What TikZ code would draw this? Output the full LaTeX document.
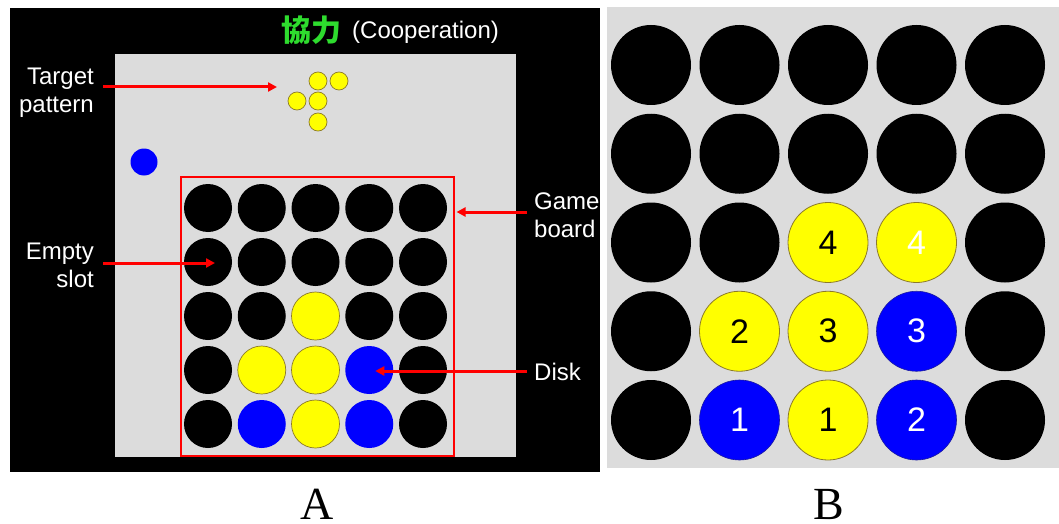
\documentclass[tikz,border=0pt]{standalone}
\usepackage{fontspec}
\setmainfont{Liberation Serif}
\newfontfamily\arialf{Liberation Sans}
\newfontfamily\cjkjp{Noto Sans CJK JP}
\usetikzlibrary{arrows.meta}
\definecolor{boardgray}{HTML}{DCDCDC}
\definecolor{diskyellow}{HTML}{FFFF00}
\definecolor{diskblue}{HTML}{0000FF}
\definecolor{yedge}{HTML}{8C7A2A}
\definecolor{bedge}{HTML}{1A1AA0}
\definecolor{titlegreen}{HTML}{2EDC2E}
\definecolor{callred}{HTML}{FF0000}
\tikzset{
  aK/.style={circle,inner sep=0pt,minimum size=48pt,fill=black},
  aY/.style={circle,inner sep=0pt,minimum size=48pt,fill=diskyellow,draw=yedge,line width=0.7pt},
  aB/.style={circle,inner sep=0pt,minimum size=48pt,fill=diskblue},
  bK/.style={circle,inner sep=0pt,minimum size=80pt,fill=black},
  bY/.style={circle,inner sep=0pt,minimum size=80pt,fill=diskyellow,draw=yedge,line width=0.8pt,text=black,font=\arialf\fontsize{34}{34}\selectfont},
  bW/.style={bY,text=white},
  bB/.style={circle,inner sep=0pt,minimum size=80pt,fill=diskblue,draw=bedge,line width=0.6pt,text=white,font=\arialf\fontsize{34}{34}\selectfont},
  tdot/.style={circle,inner sep=0pt,minimum size=18pt,fill=diskyellow,draw=yedge,line width=0.7pt},
  bdot/.style={circle,inner sep=0pt,minimum size=27pt,fill=diskblue},
  callout/.style={text=white,inner sep=0pt,font=\arialf\fontsize{24}{28}\selectfont},
  callarrow/.style={draw=callred,line width=3pt,-{Triangle[length=9pt,width=9pt]}},
  redbox/.style={draw=callred,line width=2.5pt,inner sep=0pt},
  panellabel/.style={inner sep=0pt,font=\fontsize{46}{46}\selectfont}
}
\begin{document}
\begin{tikzpicture}[x=1pt,y=-1pt]
\useasboundingbox (0,0) rectangle (1059,524);
\fill[white] (0,0) rectangle (1059,524);
% ---------- Panel A ----------
\fill[black] (10,8) rectangle (600,472);
\fill[boardgray] (115,54) rectangle (516,457);
\node[anchor=base west,inner sep=0pt,text=titlegreen,font=\cjkjp\bfseries\fontsize{30}{30}\selectfont] (titlejp) at (281,42) {協力};
\node[anchor=base west,inner sep=0pt,text=white,font=\arialf\fontsize{24}{24}\selectfont] (titleen) at (352,39) {(Cooperation)};
% target pattern
\node[tdot] (t1) at (318,81) {};
\node[tdot] (t2) at (339,81) {};
\node[tdot] (t3) at (297,101) {};
\node[tdot] (t4) at (318,101) {};
\node[tdot] (t5) at (318,122) {};
% waiting disk
\node[bdot] (nextdisk) at (144,162) {};
% board
\foreach \row [count=\j from 0] in {{K,K,K,K,K},{K,K,K,K,K},{K,K,Y,K,K},{K,Y,Y,B,K},{K,B,Y,B,K}} {
  \foreach \c [count=\i from 0] in \row {
    \node[a\c] (a-\j-\i) at ({208+53.75*\i},{208+54*\j}) {};
  }
}
\node[redbox,minimum width=273pt,minimum height=279pt] (board) at (317.5,316.5) {};
% callouts (base anchor = baseline of the last line)
\node[callout,align=right,anchor=base east] (ltarget) at (94,113) {Target\\pattern};
\node[callout,align=right,anchor=base east] (lempty) at (94,287) {Empty\\slot};
\node[callout,align=left,anchor=base west] (lgame) at (534,237) {Game\\board};
\node[callout,anchor=base west] (ldisk) at (534,380) {Disk};
\coordinate (ts) at (103,87);
\coordinate (te) at (277,87);
\coordinate (es) at (103,263);
\coordinate (gs) at (527,212);
\coordinate (ds) at (527,371);
\draw[callarrow] (ts) -- (te);
\draw[callarrow] (es) -- ([xshift=7pt]a-1-0.center |- es);
\draw[callarrow] (gs) -- ([xshift=1.3pt]board.east |- gs);
\draw[callarrow] (ds) -- ([xshift=6pt]a-3-3.center |- ds);
% ---------- Panel B ----------
\fill[boardgray] (607,7) rectangle (1059,468);
\foreach \row [count=\j from 0] in {{K/,K/,K/,K/,K/},{K/,K/,K/,K/,K/},{K/,K/,Y/4,W/4,K/},{K/,Y/2,Y/3,B/3,K/},{K/,B/1,Y/1,B/2,K/}} {
  \foreach \c/\t [count=\i from 0] in \row {
    \node[b\c] (b-\j-\i) at ({651+88.5*\i},{65+88.75*\j}) {\t};
  }
}
% ---------- Panel labels ----------
\node[panellabel,anchor=base] (labA) at (317,519) {A};
\node[panellabel,anchor=base] (labB) at (829,519) {B};
\end{tikzpicture}
\end{document}
